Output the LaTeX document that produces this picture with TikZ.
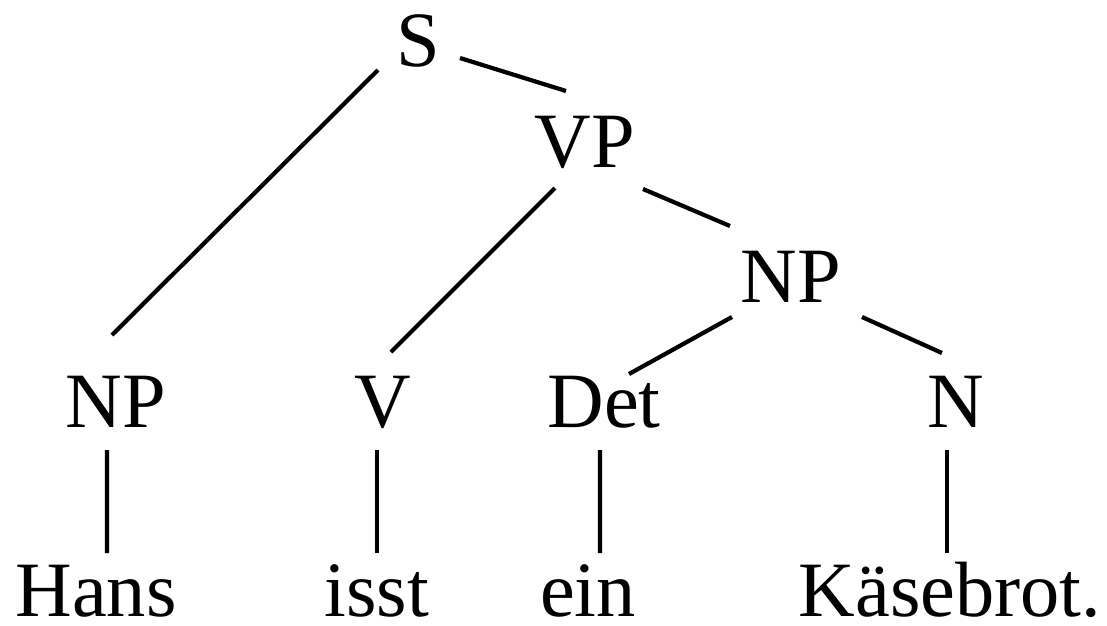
\documentclass[tikz,border=0pt]{standalone}
\usepackage{fontspec}
\setmainfont{Liberation Serif}

\begin{document}
\begin{tikzpicture}[
    every node/.style={font=\fontsize{22.3}{26}\selectfont, inner sep=0pt, anchor=base},
    word/.style={text depth=0pt},
    branch/.style={line width=1.2pt}
  ]
        \useasboundingbox (0, 0) rectangle (11.07, 6.25);

        % categories
        \node (s) at (4.18, 5.59) {S};
        \node (vp) at (5.85, 4.58) {VP};
        \node (np2) at (7.91, 3.23) {NP};
        \node (np1) at (1.16, 1.98) {NP};
        \node (v) at (3.83, 1.98) {V};
        \node (det) at (6.04, 1.98) {Det};
        \node (n) at (9.56, 1.98) {N};

        % words
        \node[word] (hans) at (0.96, 0.09) {Hans};
        \node[word] (isst) at (3.77, 0.09) {isst};
        \node[word] (ein) at (5.88, 0.09) {ein};
        \node[word] (brot) at (9.50, 0.09) {Käsebrot.};

        \draw[branch] ([shift={(-0.40, -0.04)}]s.base) to ([shift={(-0.04, 0.92)}]np1.base);
        \draw[branch] ([shift={(0.42, 0.08)}]s.base) to ([shift={(-0.19, 0.76)}]vp.base);
        \draw[branch] ([shift={(-0.30, -0.21)}]vp.base) to ([shift={(0.08, 0.75)}]v.base);
        \draw[branch] ([shift={(0.58, -0.22)}]vp.base) to ([shift={(-0.61, 0.76)}]np2.base);
        \draw[branch] ([shift={(-0.59, -0.15)}]np2.base) to ([shift={(0.25, 0.53)}]det.base);
        \draw[branch] ([shift={(0.71, -0.15)}]np2.base) to ([shift={(-0.14, 0.74)}]n.base);

        \draw[branch] ([shift={(-0.09, -0.23)}]np1.base) to ([shift={(0.11, 0.63)}]hans.base);
        \draw[branch] ([shift={(-0.06, -0.23)}]v.base) to ([shift={(0.00, 0.63)}]isst.base);
        \draw[branch] ([shift={(-0.04, -0.23)}]det.base) to ([shift={(0.12, 0.63)}]ein.base);
        \draw[branch] ([shift={(-0.09, -0.23)}]n.base) to ([shift={(-0.03, 0.63)}]brot.base);
    \end{tikzpicture}
\end{document}
